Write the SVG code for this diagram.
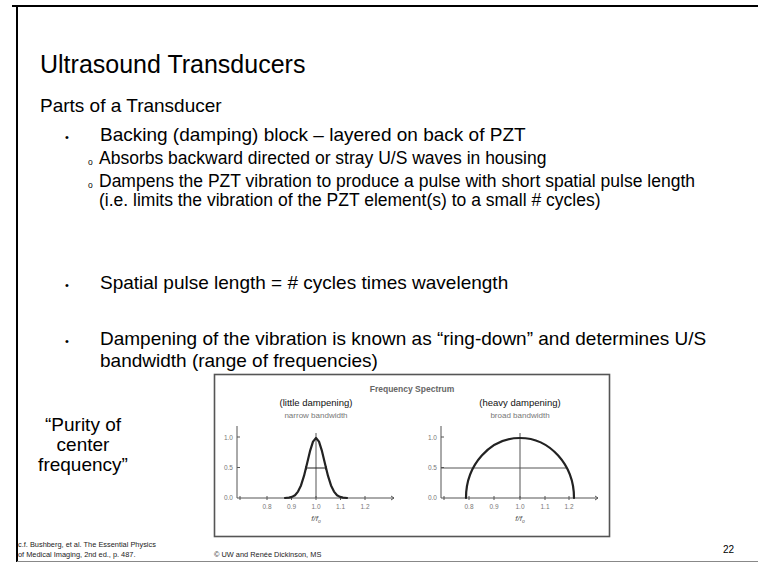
<svg xmlns="http://www.w3.org/2000/svg" width="758" height="564" viewBox="0 0 758 564">
<style>
.t{font-family:"Liberation Sans",Arial,sans-serif;fill:#000}
.h1{font-size:25px}
.h2{font-size:19px}
.b1{font-size:19px}
.b2{font-size:17.5px}
.ft{font-size:7.4px;fill:#222}
.ax{stroke:#555;stroke-width:1;fill:none}
.gl{stroke:#555;stroke-width:1;fill:none}
.cv{stroke:#222;stroke-width:2.2;fill:none;stroke-linejoin:round;stroke-linecap:round}
.cl{font-family:"Liberation Sans",Arial,sans-serif;font-size:6.5px;fill:#777}
.sub{font-family:"Liberation Sans",Arial,sans-serif;font-size:8px;fill:#777}
.lab{font-family:"Liberation Sans",Arial,sans-serif;font-size:9.5px;fill:#111}
</style>
<rect width="758" height="564" fill="#fff"/>
<g id="frame">
<line x1="12" y1="6" x2="758" y2="6" stroke="#000" stroke-width="2"/>
<line x1="17" y1="6" x2="17" y2="562" stroke="#000" stroke-width="2"/>
<line x1="17" y1="561.5" x2="758" y2="561.5" stroke="#888" stroke-width="1.2"/>
</g>
<g id="title">
<text class="t h1" x="40" y="73">Ultrasound Transducers</text>
</g>
<g id="body">
<text class="t h2" x="40" y="112">Parts of a Transducer</text>
<text class="t" x="65" y="141" font-size="11">•</text>
<text class="t b1" x="100" y="141">Backing (damping) block – layered on back of PZT</text>
<text class="t" x="88" y="165" font-size="8.5">o</text>
<text class="t b2" x="99" y="164">Absorbs backward directed or stray U/S waves in housing</text>
<text class="t" x="88" y="188" font-size="8.5">o</text>
<text class="t b2" x="99" y="187">Dampens the PZT vibration to produce a pulse with short spatial pulse length</text>
<text class="t b2" x="99" y="206">(i.e. limits the vibration of the PZT element(s) to a small # cycles)</text>
<text class="t" x="65" y="289" font-size="11">•</text>
<text class="t b1" x="100" y="289">Spatial pulse length = # cycles times wavelength</text>
<text class="t" x="65" y="345" font-size="11">•</text>
<text class="t b1" x="100" y="345">Dampening of the vibration is known as “ring-down” and determines U/S</text>
<text class="t b1" x="100" y="367">bandwidth (range of frequencies)</text>
</g>
<g id="purity">
<text class="t b1" x="83" y="431" text-anchor="middle">“Purity of</text>
<text class="t b1" x="83" y="451" text-anchor="middle">center</text>
<text class="t b1" x="83" y="471" text-anchor="middle">frequency”</text>
</g>
<g id="chart">
<rect x="214.5" y="374.5" width="395" height="162" fill="#fff" stroke="#555" stroke-width="1.6"/>
<text x="412" y="392" text-anchor="middle" font-family="Liberation Sans,Arial,sans-serif" font-size="8.5" font-weight="bold" fill="#666">Frequency Spectrum</text>
<g id="left-plot">
<text class="lab" x="316" y="406" text-anchor="middle">(little dampening)</text>
<text class="sub" x="316" y="418" text-anchor="middle">narrow bandwidth</text>
<path class="ax" d="M237,426 V498 H394"/>
<path class="ax" d="M237,437 h3 M237,467.5 h3 M240,496 v4 M267,496 v4 M291.5,496 v4 M316,496 v4 M340.5,496 v4 M365,496 v4 M391,496 l3,2 l-3,2"/>
<text class="cl" x="233" y="440" text-anchor="end">1.0</text>
<text class="cl" x="233" y="470" text-anchor="end">0.5</text>
<text class="cl" x="233" y="500" text-anchor="end">0.0</text>
<text class="cl" x="267" y="509" text-anchor="middle">0.8</text>
<text class="cl" x="291.5" y="509" text-anchor="middle">0.9</text>
<text class="cl" x="316" y="509" text-anchor="middle">1.0</text>
<text class="cl" x="340.5" y="509" text-anchor="middle">1.1</text>
<text class="cl" x="365" y="509" text-anchor="middle">1.2</text>
<line class="gl" x1="316" y1="433" x2="316" y2="498"/>
<path class="cv" d="M285,498 L289,497.6 292,496.9 295,495.2 298,491.6 301,485.4 304,475.9 307,463.7 310,451.2 313,441.6 316,438 319,441.6 322,451.2 325,463.7 328,475.9 331,485.4 334,491.6 337,495.2 340,496.9 343,497.6 347,498"/>
<path d="M306,468 H326 M306,466 v4 M326,466 v4" stroke="#222" stroke-width="1.2" fill="none"/>
<text x="316" y="521" text-anchor="middle" font-family="Liberation Sans,Arial,sans-serif" font-size="8" font-style="italic" fill="#555">f/f<tspan font-size="5" dy="2">o</tspan></text>
</g>
<g id="right-plot">
<text class="lab" x="520" y="406" text-anchor="middle">(heavy dampening)</text>
<text class="sub" x="520" y="418" text-anchor="middle">broad bandwidth</text>
<path class="ax" d="M441,426 V498 H598"/>
<path class="ax" d="M441,437 h3 M441,467.5 h3 M444,496 v4 M469,496 v4 M494,496 v4 M520,496 v4 M545,496 v4 M569,496 v4 M595,496 l3,2 l-3,2"/>
<text class="cl" x="437" y="440" text-anchor="end">1.0</text>
<text class="cl" x="437" y="470" text-anchor="end">0.5</text>
<text class="cl" x="437" y="500" text-anchor="end">0.0</text>
<text class="cl" x="469" y="509" text-anchor="middle">0.8</text>
<text class="cl" x="494" y="509" text-anchor="middle">0.9</text>
<text class="cl" x="520" y="509" text-anchor="middle">1.0</text>
<text class="cl" x="545" y="509" text-anchor="middle">1.1</text>
<text class="cl" x="569" y="509" text-anchor="middle">1.2</text>
<line class="gl" x1="520" y1="433" x2="520" y2="498"/>
<line class="gl" x1="441" y1="468" x2="567" y2="468"/>
<path class="cv" d="M466,498 A54,60 0 0 1 574,498" stroke-width="2"/>
<text x="520" y="521" text-anchor="middle" font-family="Liberation Sans,Arial,sans-serif" font-size="8" font-style="italic" fill="#555">f/f<tspan font-size="5" dy="2">o</tspan></text>
</g>
</g>
<g id="footer">
<text class="t ft" x="18" y="547">c.f. Bushberg, et al. The Essential Physics</text>
<text class="t ft" x="18" y="557">of Medical Imaging, 2nd ed., p. 487.</text>
<text class="t ft" x="214" y="557">© UW and Renée Dickinson, MS</text>
<text class="t" x="723" y="553" font-size="10">22</text>
</g>
</svg>
